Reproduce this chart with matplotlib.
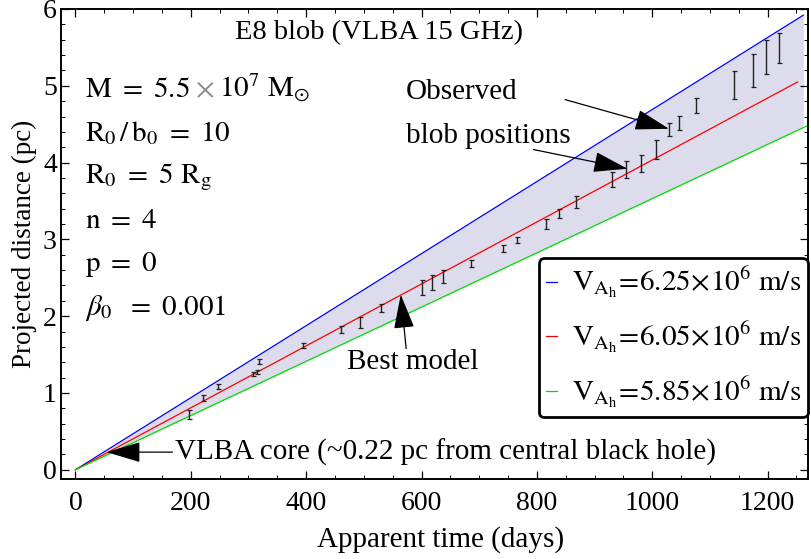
import matplotlib
matplotlib.use("Agg")
import matplotlib.pyplot as plt
import numpy as np

plt.rcParams['font.family'] = ['Liberation Serif', 'DejaVu Serif']
plt.rcParams['mathtext.fontset'] = 'stix'

# Observed blob positions (apparent time in days, projected distance in pc)
t_obs = [197, 222, 248, 307, 314, 318, 395, 461, 494, 530, 600, 619, 637, 685,
         742, 765, 816, 839, 867, 930, 955, 981, 1007, 1029, 1047, 1076, 1142,
         1175, 1197, 1220]
d_obs = [0.72, 0.935, 1.087, 1.248, 1.274, 1.41, 1.617, 1.826, 1.915, 2.109,
         2.37, 2.435, 2.52, 2.687, 2.878, 2.987, 3.2, 3.335, 3.49, 3.78, 3.91,
         3.99, 4.17, 4.43, 4.52, 4.74, 5.01, 5.20, 5.37, 5.49]
d_err = [0.054, 0.043, 0.03, 0.03, 0.03, 0.03, 0.03, 0.043, 0.07, 0.05, 0.095,
         0.095, 0.087, 0.045, 0.045, 0.04, 0.07, 0.06, 0.08, 0.10, 0.105, 0.115,
         0.12, 0.09, 0.09, 0.095, 0.18, 0.22, 0.22, 0.195]

# Model curves (start/end points)
t_blue = [0, 1262]
d_blue = [0.0, 5.92]
t_red = [0, 1252]
d_red = [0.0, 5.05]
t_green = [0, 1300]
d_green = [0.0, 4.59]

labels = [r'$\mathrm{V}_{\mathrm{A}_\mathrm{h}}\!=\!6.25\!\times\!10^{6}\ \mathrm{m/s}$',
          r'$\mathrm{V}_{\mathrm{A}_\mathrm{h}}\!=\!6.05\!\times\!10^{6}\ \mathrm{m/s}$',
          r'$\mathrm{V}_{\mathrm{A}_\mathrm{h}}\!=\!5.85\!\times\!10^{6}\ \mathrm{m/s}$']

fig = plt.figure(figsize=(8.12, 5.59), dpi=100)
ax = fig.add_axes([61/812, 1-479/559, 747/812, 470/559])

# shaded band between blue and green
tf = np.array(t_blue, dtype=float)
blue_f = np.interp(tf, t_blue, d_blue)
green_f = np.interp(tf, t_green, d_green)
ax.fill_between(tf, green_f, blue_f, color='#dcdcec', lw=0, zorder=1)

lb, = ax.plot(t_blue, d_blue, color='#0000ff', lw=0.9, zorder=2)
lr, = ax.plot(t_red, d_red, color='#ff0000', lw=0.9, zorder=2)
lg, = ax.plot(t_green, d_green, color='#00dd00', lw=0.9, zorder=2)

ax.errorbar(t_obs, d_obs, yerr=d_err, fmt='none', ecolor='#222222',
            elinewidth=1.0, capsize=1.8, capthick=0.9, zorder=3)

ax.set_xlim(-25, 1270)
ax.set_ylim(-0.12, 6.0)
ax.set_xticks([0, 200, 400, 600, 800, 1000, 1200])
ax.set_xticks(np.arange(0, 1271, 50), minor=True)
ax.set_yticks([0, 1, 2, 3, 4, 5, 6])
ax.set_yticks(np.arange(0, 6.01, 0.2), minor=True)
ax.tick_params(which='both', direction='in', top=True, right=True, labelsize=20)
ax.tick_params(which='major', length=6, width=0.9)
ax.tick_params(which='minor', length=3, width=0.7)
ax.tick_params(axis='x', which='major', pad=8.5)
ax.tick_params(axis='y', which='major', pad=3)
for s in ax.spines.values():
    s.set_linewidth(1.4)

ax.set_xlabel('Apparent time (days)', fontsize=21)
ax.xaxis.set_label_coords((441 - 61) / 747, -0.10)
ax.set_ylabel('Projected distance (pc)', fontsize=19.5, labelpad=4)

tfs = 21
ax.text(235 / 812, 1 - 33 / 559, 'E8 blob (VLBA 15 GHz)', transform=fig.transFigure,
        fontsize=20.5, ha='left', va='center')

renderer = fig.canvas.get_renderer()
# first parameter line, with a grey multiplication sign
m_parts = [r'$\mathrm{M}\ =\ 5.5$', r'$\times$', r'$10^{7}\ \mathrm{M}_{\odot}$']
m_colors = ['black', '#888888', 'black']
x_pix = 85.0
base_y = 559 - 97
for s, c in zip(m_parts, m_colors):
    t = fig.text(x_pix / 812, base_y / 559, s, fontsize=tfs, color=c,
                 ha='left', va='baseline')
    bb = t.get_window_extent(renderer)
    x_pix = bb.x1 + 5

left_texts = [r'$\mathrm{R}_0\,/\,\mathrm{b}_0\ =\ 10$',
              r'$\mathrm{R}_0\ =\ 5\ \mathrm{R}_\mathrm{g}$',
              r'$\mathrm{n}\ =\ 4$',
              r'$\mathrm{p}\ =\ 0$',
              r'$\beta_0\ \ =\ 0.001$']
for i, s in enumerate(left_texts):
    y_pix = 90 + 43.6 * (i + 1)
    ax.text(85 / 812, 1 - y_pix / 559, s, transform=fig.transFigure,
            fontsize=tfs, ha='left', va='center')

akw = dict(arrowstyle='-|>,head_length=1.2,head_width=0.36', color='black',
           lw=0.9, mutation_scale=18, shrinkA=0, shrinkB=0)

ax.annotate('VLBA core (~0.22 pc from central black hole)', xy=(54, 0.23),
            xytext=(173, 0.23), textcoords='data', fontsize=tfs,
            ha='left', va='center', arrowprops=akw)
ax.annotate('', xy=(564, 2.28), xytext=(574, 1.53), arrowprops=akw)
ax.text(584, 1.40, 'Best model', fontsize=tfs, ha='center', va='center',
        bbox=dict(facecolor='white', edgecolor='none', pad=0), zorder=4)
ax.annotate('', xy=(1029, 4.44), xytext=(849, 4.82), arrowprops=akw)
ax.annotate('', xy=(957, 3.92), xytext=(794, 4.17), arrowprops=akw)
ax.text(573, 4.92, 'Observed', fontsize=tfs, ha='left', va='center')
ax.text(573, 4.34, 'blob positions', fontsize=tfs, ha='left', va='center')

leg = ax.legend([lb, lr, lg], labels, loc='upper right',
                bbox_to_anchor=(1.0, 0.47), fontsize=21,
                handlelength=0.38, handletextpad=0.5, labelspacing=0.68,
                fancybox=True, framealpha=1, edgecolor='black',
                borderpad=0.25, borderaxespad=0)
leg.get_frame().set_linewidth(2.0)

fig.savefig('out.png', dpi=100)
